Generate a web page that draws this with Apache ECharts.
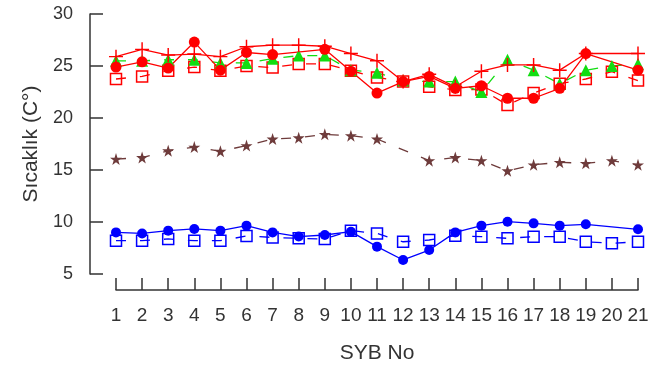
<!DOCTYPE html>
<html>
<head>
	<meta charset="UTF-8">
	<title>Sıcaklık</title>
	<script src="https://cdn.jsdelivr.net/npm/echarts@6/dist/echarts.min.js"></script>
	<style>
		html, body { margin: 0; padding: 0; background: #fff; }
		#chart { width: 668px; height: 374px; }
	</style>
</head>
<body>
	<div id="chart"></div>
	<script>
		// SYB numaralari
		var sybNo = ["1","2","3","4","5","6","7","8","9","10","11","12","13","14","15","16","17","18","19","20","21"];
		var yTicks = [5, 30, 5]; // min, max, aralik

		var redPlus   = [25.9, 26.6, 26.05, 26.15, 25.9, 26.85, 27.0, 27.0, 26.9, 26.2, 25.5, 23.5, 24.2, 23.0, 24.5, 25.1, 25.1, 24.6, 26.2, null, 26.2];
		var redCircle = [24.9, 25.4, 24.8, 27.3, 24.6, 26.3, 26.1, null, 26.6, 24.5, 22.4, 23.5, 24.0, 22.85, 23.1, 21.9, 21.9, 22.85, 26.2, null, 24.6];
		var greenTri  = [25.5, 25.5, 25.6, 25.6, 25.3, 25.3, 25.7, 26.0, 26.0, 24.6, 24.35, 23.6, 23.5, 23.5, 22.5, 25.6, 24.6, 23.3, 24.6, 25.0, 25.2];
		var redSquare = [23.75, 24.0, 24.55, 24.9, 24.55, 25.0, 24.85, 25.2, 25.2, 24.55, 23.9, 23.5, 23.0, 22.7, 22.75, 21.25, 22.4, 23.3, 23.75, 24.45, 23.6];
		var brownStar = [16.05, 16.2, 16.85, 17.2, 16.8, 17.35, 17.98, 18.1, 18.43, 18.3, 17.98, null, 15.9, 16.2, 15.9, 14.93, 15.5, 15.74, 15.64, 15.9, 15.5];
		var blueCircle = [9.0, 8.9, 9.17, 9.33, 9.17, 9.65, 9.0, 8.6, 8.75, 9.07, 7.63, 6.35, 7.3, 9.0, 9.65, 10.03, 9.87, 9.65, 9.78, null, 9.3];
		var blueSquare = [8.2, 8.2, 8.37, 8.2, 8.2, 8.65, 8.52, 8.43, 8.37, 9.17, 8.9, 8.1, 8.27, 8.68, 8.59, 8.43, 8.59, 8.59, 8.1, 7.95, 8.1];

		var plusPath = 'path://M6,0H7.4V6H13.4V7.4H7.4V13.4H6V7.4H0V6H6Z';
		var starPath = 'path://M50,0L61.8,35.1L98.8,35.1L68.9,56.9L80.3,91.9L50,70.3L19.7,91.9L31.1,56.9L1.2,35.1L38.2,35.1Z';
		var dash = [10, 14];

		function line(data, color, symbol, size, dashed, hollow) {
			return {
				type: 'line',
				data: data,
				connectNulls: true,
				symbol: symbol,
				symbolSize: size,
				showAllSymbol: true,
				lineStyle: { color: color, width: 1.3, type: dashed ? dash : 'solid' },
				itemStyle: hollow
					? { color: 'rgba(0,0,0,0)', borderColor: color, borderWidth: 1.5 }
					: { color: color, borderWidth: 0 },
				emphasis: { disabled: true },
				animation: false
			};
		}

		var myChart = echarts.init(document.getElementById('chart'));
		var axisColor = '#333';
		var option = {
			backgroundColor: '#fff',
			animation: false,
			textStyle: { fontFamily: 'Liberation Sans, Arial, sans-serif' },
			grid: { left: 116, right: 30, top: 14, bottom: 100 },
			xAxis: {
				type: 'category',
				data: sybNo,
				boundaryGap: false,
				offset: 16,
				name: 'SYB No',
				nameLocation: 'middle',
				nameGap: 53,
				nameTextStyle: { fontSize: 21, color: axisColor },
				axisLine: { show: true, lineStyle: { color: axisColor, width: 1.5 } },
				axisTick: { show: true, inside: true, length: 12, lineStyle: { color: axisColor, width: 1.5 } },
				axisLabel: { interval: 0, fontSize: 19, color: axisColor, margin: 16 },
				splitLine: { show: false }
			},
			yAxis: {
				type: 'value',
				min: yTicks[0],
				max: yTicks[1],
				interval: yTicks[2],
				offset: 26,
				name: 'Sıcaklık (C°)',
				nameLocation: 'middle',
				nameGap: 47,
				nameTextStyle: { fontSize: 21, color: axisColor },
				axisLine: { show: true, lineStyle: { color: axisColor, width: 1.5 } },
				axisTick: { show: true, inside: true, length: 13, lineStyle: { color: axisColor, width: 1.5 } },
				axisLabel: { fontSize: 18, color: axisColor, margin: 17 },
				splitLine: { show: false }
			},
			series: [
				line(blueSquare, '#0000ff', 'rect', 11, true, true),
				line(blueCircle, '#0000ff', 'circle', 10, false, false),
				line(brownStar, '#6e3b3b', starPath, 12, true, false),
				line(redSquare, '#ff0000', 'rect', 11, true, true),
				line(greenTri, '#11dd11', 'triangle', 12, true, false),
				line(redCircle, '#ff0000', 'circle', 11, false, false),
				line(redPlus, '#ff0000', plusPath, 14, false, false)
			]
		};
		myChart.setOption(option);
	</script>
</body>
</html>
